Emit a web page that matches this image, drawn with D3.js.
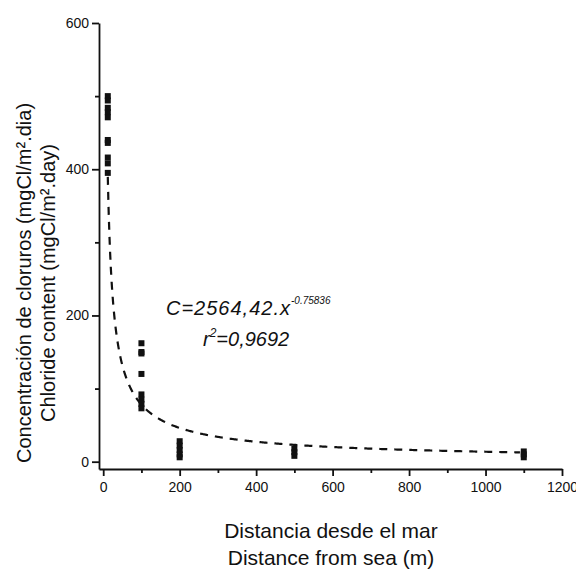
<!DOCTYPE html>
<html lang="en">
<head>
  <meta charset="UTF-8">
  <title></title>
  <style>
    html, body { margin: 0; padding: 0; background: #fff; }
    svg { display: block; }
    text { font-family: "Liberation Sans", Arial, sans-serif; fill: #111; }
  </style>
</head>
<body>
  <svg width="576" height="569"></svg>
<script src="https://d3js.org/d3.v7.min.js"></script>
<script type="text/javascript">
  // measured points: distance from sea (m) and chloride content
  const distances = [12, 12, 12, 12, 12, 12, 12, 12, 12, 12,
                     100, 100, 100, 100, 100, 100, 100, 100,
                     200, 200, 200, 200, 200,
                     500, 500, 500,
                     1100, 1100, 1100]
  const chloride = [500, 494, 484, 478, 471, 440, 436, 416, 408, 395,
                    162, 150, 148, 120, 92, 85, 79, 73,
                    28, 22, 16, 10, 6,
                    18, 13, 8,
                    14, 10, 6]

  // power fit C = a * x^b, as printed on the chart
  const fitA = 2564.42
  const fitB = -0.75836
  const fitRange = [12, 1090]

  const xTicks = [0, 200, 400, 600, 800, 1000, 1200]
  const xMinor = [100, 300, 500, 700, 900, 1100]
  const yTicks = [0, 200, 400, 600]
  const yMinor = [100, 300, 500]

  const svg = d3.select('svg')

  const x = d3.scaleLinear().domain([-11, 1200]).range([99, 562])
  const y = d3.scaleLinear().domain([-10, 600]).range([469, 23])

  // axes
  svg.append('g')
    .attr('transform', `translate(0,${y(-10)})`)
    .call(d3.axisBottom(x).tickValues(xTicks).tickFormat(d3.format('d'))
      .tickSize(7).tickSizeOuter(0).tickPadding(6))
  svg.append('g')
    .attr('transform', `translate(0,${y(-10)})`)
    .call(d3.axisBottom(x).tickValues(xMinor).tickSize(4).tickFormat(''))
    .select('.domain').remove()

  svg.append('g')
    .attr('transform', `translate(${x(-11)},0)`)
    .call(d3.axisLeft(y).tickValues(yTicks).tickSize(7).tickSizeOuter(0).tickPadding(3))
  svg.append('g')
    .attr('transform', `translate(${x(-11)},0)`)
    .call(d3.axisLeft(y).tickValues(yMinor).tickSize(4).tickFormat(''))
    .select('.domain').remove()

  svg.selectAll('.domain, .tick line')
    .attr('stroke', '#111')
    .attr('stroke-width', 1.8)
  svg.selectAll('.tick text')
    .attr('font-size', 14)
    .style('font-family', '"Liberation Sans", Arial, sans-serif')
    .attr('fill', '#111')

  // fitted curve
  const fitX = d3.range(fitRange[0], fitRange[1] + 1, 2)
  svg.append('path')
    .datum(fitX)
    .attr('fill', 'none')
    .attr('stroke', '#111')
    .attr('stroke-width', 2.2)
    .attr('stroke-dasharray', '8,7')
    .attr('d', d3.line()
      .x(d => x(d))
      .y(d => y(fitA * Math.pow(d, fitB))))

  // points
  svg.append('g')
    .selectAll('rect')
    .data(distances)
    .enter().append('rect')
      .attr('x', d => x(d) - 3)
      .attr('y', (d, i) => y(chloride[i]) - 3)
      .attr('width', 6)
      .attr('height', 6)
      .attr('fill', '#111')

  // equation
  const eq = svg.append('text')
    .attr('x', 166)
    .attr('y', 315)
    .attr('font-size', 20)
    .attr('font-style', 'italic')
  eq.append('tspan').attr('letter-spacing', 1).text('C=2564,42.x')
  eq.append('tspan')
    .attr('dy', -11)
    .attr('font-size', 10)
    .text('-0.75836')

  const r2 = svg.append('text')
    .attr('x', 203)
    .attr('y', 346)
    .attr('font-size', 20)
    .attr('font-style', 'italic')
  r2.append('tspan').text('r')
  r2.append('tspan').attr('dy', -9).attr('font-size', 12).text('2')
  r2.append('tspan').attr('dy', 9).text('=0,9692')

  // axis titles
  svg.append('text')
    .attr('transform', 'translate(31,283) rotate(-90)')
    .attr('text-anchor', 'middle')
    .attr('font-size', 20)
    .text('Concentración de cloruros (mgCl/m².dia)')
  svg.append('text')
    .attr('transform', 'translate(55,283) rotate(-90)')
    .attr('text-anchor', 'middle')
    .attr('font-size', 20)
    .text('Chloride content (mgCl/m².day)')

  svg.append('text')
    .attr('x', 331)
    .attr('y', 538)
    .attr('text-anchor', 'middle')
    .attr('font-size', 21)
    .text('Distancia desde el mar')
  svg.append('text')
    .attr('x', 331)
    .attr('y', 565)
    .attr('text-anchor', 'middle')
    .attr('font-size', 21)
    .text('Distance from sea (m)')
</script>
</body>
</html>
